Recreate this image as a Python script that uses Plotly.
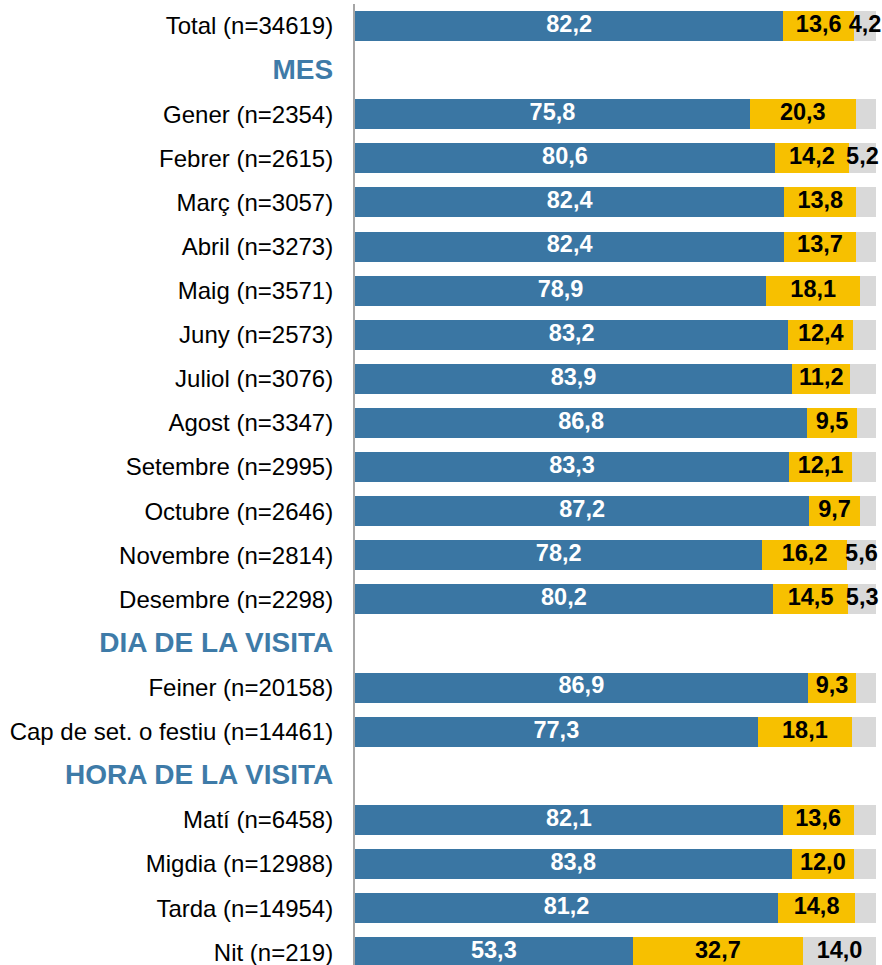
import plotly.graph_objects as go

# Rows top to bottom, including section heading rows
rows = [
    "Total (n=34619)",
    "MES",
    "Gener (n=2354)", "Febrer (n=2615)", "Març (n=3057)", "Abril (n=3273)",
    "Maig (n=3571)", "Juny (n=2573)", "Juliol (n=3076)", "Agost (n=3347)",
    "Setembre (n=2995)", "Octubre (n=2646)", "Novembre (n=2814)", "Desembre (n=2298)",
    "DIA DE LA VISITA",
    "Feiner (n=20158)", "Cap de set. o festiu (n=14461)",
    "HORA DE LA VISITA",
    "Matí (n=6458)", "Migdia (n=12988)", "Tarda (n=14954)", "Nit (n=219)",
]
headings = ["MES", "DIA DE LA VISITA", "HORA DE LA VISITA"]

# Bar categories and their three stacked shares (%)
categories = [r for r in rows if r not in headings]
blue_vals = [82.2, 75.8, 80.6, 82.4, 82.4, 78.9, 83.2, 83.9, 86.8, 83.3, 87.2, 78.2, 80.2,
             86.9, 77.3, 82.1, 83.8, 81.2, 53.3]
yellow_vals = [13.6, 20.3, 14.2, 13.8, 13.7, 18.1, 12.4, 11.2, 9.5, 12.1, 9.7, 16.2, 14.5,
               9.3, 18.1, 13.6, 12.0, 14.8, 32.7]
gray_vals = [4.2, 3.9, 5.2, 3.8, 3.9, 3.0, 4.4, 4.9, 3.7, 4.6, 3.1, 5.6, 5.3,
             3.8, 4.6, 4.3, 4.2, 4.0, 14.0]
gray_labelled = [True, False, True, False, False, False, False, False, False, False, False,
                 True, True, False, False, False, False, False, True]

BLUE = "#3A76A3"
YELLOW = "#F7C000"
GRAY = "#D9D9D9"
HEAD = "#3E7BA8"
FONT = "Liberation Sans"
VAL_SIZE = 23.5


def fmt(v):
    return f"{v:.1f}".replace(".", ",")


fig = go.Figure()
bar_w = 0.68
for vals, col in [(blue_vals, BLUE), (yellow_vals, YELLOW), (gray_vals, GRAY)]:
    fig.add_trace(go.Bar(
        y=categories, x=vals, orientation="h", width=bar_w,
        marker=dict(color=col, line=dict(width=0)),
        hoverinfo="skip", showlegend=False,
    ))

# Value labels centred in each segment
blue_mid = [b / 2 for b in blue_vals]
yellow_mid = [b + y / 2 for b, y in zip(blue_vals, yellow_vals)]
gray_mid = [b + y + g / 2 for b, y, g in zip(blue_vals, yellow_vals, gray_vals)]

fig.add_trace(go.Scatter(
    x=blue_mid, y=categories, mode="text",
    text=[f"<b>{fmt(v)}</b>" for v in blue_vals],
    textfont=dict(family=FONT, size=VAL_SIZE, color="white"),
    hoverinfo="skip", showlegend=False, cliponaxis=False,
))
fig.add_trace(go.Scatter(
    x=yellow_mid, y=categories, mode="text",
    text=[f"<b>{fmt(v)}</b>" for v in yellow_vals],
    textfont=dict(family=FONT, size=VAL_SIZE, color="black"),
    hoverinfo="skip", showlegend=False, cliponaxis=False,
))
fig.add_trace(go.Scatter(
    x=gray_mid, y=categories, mode="text",
    text=[f"<b>{fmt(v)}</b>" if s else "" for v, s in zip(gray_vals, gray_labelled)],
    textfont=dict(family=FONT, size=VAL_SIZE, color="black"),
    hoverinfo="skip", showlegend=False, cliponaxis=False,
))

tick_text = [
    f"<b><span style='color:{HEAD};font-size:28px'>{r}</span></b>" if r in headings else r
    for r in rows
]

fig.update_layout(
    barmode="stack",
    width=882, height=965,
    margin=dict(l=355, r=6, t=4, b=0),
    plot_bgcolor="white", paper_bgcolor="white",
    font=dict(family=FONT, size=24, color="black"),
    xaxis=dict(range=[0, 100], visible=False, fixedrange=True),
    yaxis=dict(
        type="category", categoryorder="array", categoryarray=rows,
        tickmode="array", tickvals=rows, ticktext=tick_text,
        range=[21.29, -0.5],
        showline=True, linecolor="#A6A6A6", linewidth=2,
        ticks="outside", ticklen=15, tickcolor="rgba(0,0,0,0)",
        showgrid=False, zeroline=False,
    ),
)

fig.write_html("out.html")
